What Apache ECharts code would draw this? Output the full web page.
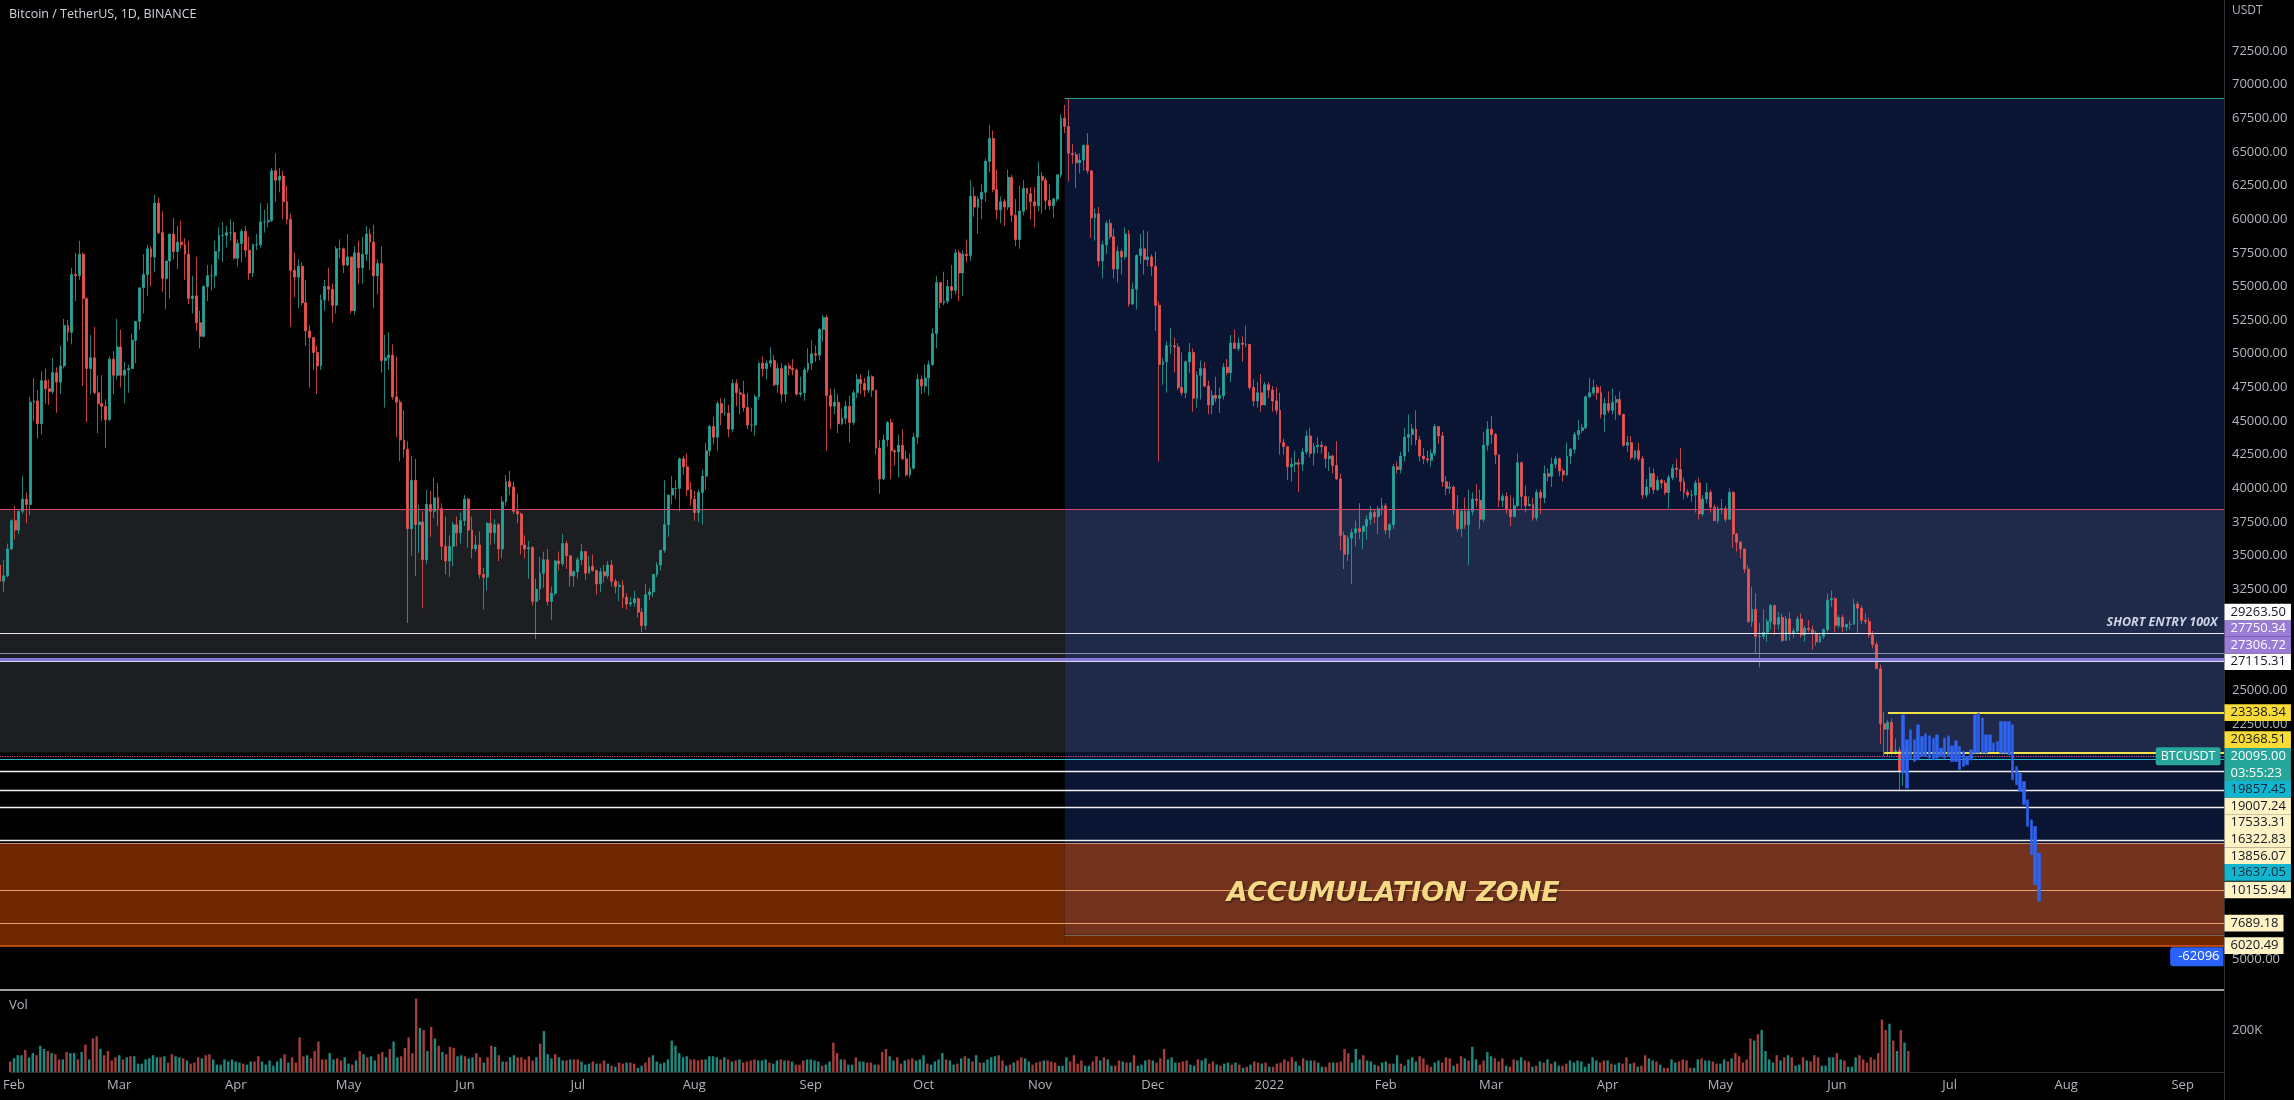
<!DOCTYPE html>
<html><head><meta charset="utf-8">
<script src="https://cdn.jsdelivr.net/npm/echarts@6/dist/echarts.min.js"></script>
<style>html,body{margin:0;padding:0;background:#000;overflow:hidden}#chart{width:2294px;height:1100px}</style>
</head><body><div id="chart"></div>
<script>
// ---------------- DATA ----------------
const START_DATE = '2021-01-31';
const DAY_COUNT = 590;            // categories through 2022-09-12
const FIRST_OPEN = 34.3;          // k USDT
// daily closes, highs, lows in thousands USDT, 2021-01-31 .. 2022-06-20
const CLOSE = [33.1,
33.5,35.5,37.6,36.9,38.3,39.2,38.8,46.4,46.5,44.8,48.0,47.4,47.2,48.6,47.9,49.1,52.1,51.6,55.9,55.8,57.4,54.1,48.9,49.7,47.1,46.3,46.1,45.1,
49.6,48.4,50.5,48.4,48.8,48.9,51.0,52.4,54.9,55.9,57.8,57.2,61.2,59.0,55.6,56.9,58.9,57.6,58.3,58.1,57.4,54.1,54.3,52.3,51.3,55.0,55.8,55.8,57.6,58.8,58.8,
59.0,59.0,57.1,58.2,59.1,57.7,56.0,58.1,58.1,59.8,59.8,59.9,63.6,62.9,63.2,61.3,60.0,56.2,55.7,56.5,53.8,51.7,51.2,50.1,49.1,54.0,55.0,54.8,53.6,57.8,
57.8,56.6,57.2,53.2,57.5,56.4,57.4,58.9,58.3,55.8,56.7,49.5,49.7,49.9,46.8,46.4,43.6,42.9,37.0,40.6,37.3,37.5,34.7,38.8,38.3,39.3,38.5,35.7,34.6,35.7,37.3,
36.7,37.6,39.2,36.9,35.5,35.8,33.6,33.4,37.4,36.7,37.3,35.5,39.0,40.5,40.1,38.3,38.1,35.8,35.5,35.6,31.6,32.5,33.7,34.7,31.6,32.2,34.6,34.4,35.9,35.0,
33.5,33.8,34.7,35.3,33.7,34.2,33.9,32.9,33.8,33.5,34.3,33.1,32.7,32.8,31.9,31.4,31.5,31.8,30.8,29.8,32.1,32.3,33.6,34.3,35.4,37.3,39.5,40.0,40.0,42.2,41.6,
39.9,39.2,38.2,39.7,40.9,42.8,44.6,43.8,46.3,45.6,45.6,44.4,47.8,47.1,47.0,46.0,44.7,44.7,46.8,49.3,48.9,49.3,49.5,47.7,48.9,47.0,49.1,48.9,48.8,47.0,47.1,
48.8,49.3,50.0,49.9,51.8,52.7,46.9,46.1,46.4,44.8,45.2,46.1,44.9,47.1,48.1,47.8,47.3,48.3,47.3,43.0,40.7,43.6,44.9,42.8,42.7,43.2,42.2,41.0,41.5,43.8,
48.1,47.6,48.2,49.2,51.5,55.3,53.8,53.9,55.0,54.7,57.5,56.0,57.4,57.3,61.7,60.9,61.5,62.0,64.3,66.0,62.2,60.7,61.3,60.9,63.1,60.3,58.5,60.6,62.3,61.9,61.3,
61.0,63.2,62.9,61.4,61.0,61.5,63.3,67.5,66.9,64.9,64.8,64.2,64.4,65.5,63.6,60.1,60.4,56.9,58.1,59.7,58.7,56.3,57.6,57.2,58.9,53.7,54.8,57.3,57.8,57.0,
57.2,56.5,53.6,49.2,49.4,50.6,50.6,50.5,47.5,47.1,49.4,50.1,46.7,48.4,48.9,47.6,46.2,46.9,46.7,46.9,49.0,48.6,50.8,50.4,50.8,50.7,50.7,47.5,46.5,47.1,46.2,
47.7,47.3,46.5,45.8,43.4,43.1,41.6,41.8,41.9,41.8,42.7,43.9,42.6,43.1,43.2,43.1,42.2,42.4,41.7,40.7,36.5,35.1,36.3,36.7,37.0,36.8,37.2,37.7,38.2,37.9,38.5,
38.7,36.9,37.3,41.6,41.4,42.4,43.8,44.0,44.4,43.6,42.4,42.2,42.1,42.6,44.6,43.9,40.5,40.0,40.1,38.4,37.0,38.3,37.3,38.3,39.2,39.1,37.7,43.2,
44.4,44.0,42.5,39.1,39.4,38.4,37.9,38.7,41.9,39.4,38.7,38.8,37.8,39.7,39.3,41.1,40.9,41.8,42.2,41.3,41.0,42.4,42.9,44.0,44.3,44.5,46.8,47.1,47.5,47.1,45.5,
46.3,45.8,46.4,46.6,45.5,43.2,43.4,42.3,42.8,42.2,39.5,40.1,41.1,39.9,40.6,40.4,39.7,40.8,41.5,41.4,40.5,39.7,39.5,39.5,40.4,38.1,39.2,39.7,38.6,37.6,
38.5,38.5,37.7,39.7,36.6,36.0,35.5,34.0,30.1,31.0,29.0,29.0,29.3,30.1,31.3,29.9,30.4,28.7,30.3,29.2,29.4,30.3,29.1,29.6,29.5,29.2,28.6,29.0,29.5,31.7,31.8,
29.8,30.4,29.7,29.9,29.9,31.4,31.1,30.2,30.1,29.1,28.4,26.6,22.5,22.1,22.6,20.4,20.5,19.0,20.6,20.1];
const HIGH = [34.3,
34.7,35.9,37.7,38.7,38.3,40.9,39.7,46.8,48.2,47.3,48.7,48.9,48.1,49.7,49.0,50.6,52.6,52.5,56.4,57.5,58.4,57.5,54.2,51.4,52.0,48.4,48.4,46.6,
49.8,50.2,52.6,51.8,49.4,49.2,51.5,52.4,54.9,57.4,58.1,58.0,61.8,61.6,60.6,56.9,58.9,60.1,59.5,59.9,58.6,58.4,55.8,57.2,53.2,55.1,56.6,56.6,58.4,59.4,59.8,
59.5,60.0,59.8,58.5,59.3,59.5,58.7,58.2,58.9,61.2,60.7,61.2,63.8,64.9,63.8,63.6,62.5,60.4,57.5,57.0,56.8,55.5,52.1,51.2,50.6,54.4,55.5,56.4,55.2,58.0,
58.5,57.9,58.9,57.2,58.0,58.4,58.7,59.5,59.3,59.6,57.0,58.0,51.4,51.6,50.7,49.8,46.6,45.8,43.5,42.4,42.2,38.8,38.3,39.9,39.8,40.8,40.4,38.9,37.9,36.5,37.5,
37.9,38.2,39.5,39.3,37.9,36.5,36.8,34.1,37.5,38.4,37.7,37.4,39.4,41.0,41.3,40.5,39.6,38.2,36.5,36.1,35.7,33.3,34.9,35.3,35.5,32.7,34.7,35.3,36.6,36.1,
35.0,33.9,34.9,35.9,35.3,35.0,35.1,33.9,34.1,34.3,34.6,34.7,33.3,33.1,33.2,32.2,31.9,32.4,31.9,31.1,32.9,32.6,33.6,34.5,35.4,40.6,39.5,40.9,40.6,42.3,42.4,
42.6,40.5,39.8,39.9,41.4,43.4,44.7,45.3,46.5,46.7,46.7,46.2,48.1,48.1,47.4,48.0,47.1,46.0,47.0,49.4,49.8,49.5,50.5,49.9,49.3,49.3,49.2,49.3,49.6,48.9,48.3,
49.0,50.4,51.0,50.6,51.9,52.9,52.9,47.4,47.4,47.0,45.9,46.5,46.9,47.3,48.5,48.5,48.2,48.8,48.4,47.3,43.6,44.0,45.0,45.2,42.9,44.0,44.4,42.8,42.6,44.1,
48.5,48.4,49.2,49.5,51.9,55.8,55.3,56.1,55.5,56.6,57.8,57.7,57.7,58.5,62.9,62.4,61.7,62.6,64.5,67.0,66.6,63.7,61.7,61.5,63.7,63.3,61.5,62.5,62.9,62.3,62.4,
62.4,64.3,63.5,63.1,62.6,61.6,63.3,67.8,68.5,69.0,65.6,65.0,64.9,65.5,66.4,63.6,60.8,60.9,58.4,59.9,60.0,59.3,58.0,57.8,59.4,59.2,55.3,57.4,58.9,59.2,
59.1,57.4,57.6,53.9,49.7,50.9,51.9,51.2,50.8,50.1,49.5,50.8,50.4,48.7,49.5,49.4,48.0,47.3,48.3,47.5,49.3,49.6,51.4,51.8,51.2,51.3,52.1,50.7,48.1,47.9,48.5,
47.9,47.9,47.6,47.5,47.1,43.7,43.1,42.3,42.8,42.2,43.0,44.3,44.5,43.4,43.8,43.5,43.2,42.7,42.5,43.5,41.1,36.8,36.5,37.0,37.6,38.9,37.2,38.0,38.7,38.4,38.7,
39.3,38.9,37.4,41.8,42.0,42.7,44.5,45.5,44.8,45.8,43.9,43.0,42.8,42.9,44.8,44.6,44.2,40.9,40.5,40.2,39.5,38.4,39.3,39.9,39.7,40.3,39.9,44.2,
45.0,45.4,44.1,42.5,39.6,39.7,39.5,39.3,42.6,42.0,40.2,39.4,39.3,39.9,39.9,41.7,41.5,42.3,42.4,42.3,41.5,43.4,43.0,44.2,45.1,44.8,46.9,48.2,48.1,47.7,47.6,
46.7,47.2,47.4,46.9,47.2,45.5,43.9,43.9,42.8,43.4,42.4,40.7,41.6,41.5,40.9,40.7,40.6,41.0,41.8,42.2,43.0,40.8,39.9,39.9,40.6,40.8,39.5,40.4,39.9,38.8,
38.7,39.2,38.7,40.0,39.8,36.7,36.1,35.5,34.3,32.7,32.2,30.0,31.0,30.3,31.4,31.3,30.8,30.7,30.5,30.8,29.6,30.5,30.7,29.8,30.2,29.8,29.4,29.2,29.6,32.2,32.4,
31.9,30.6,30.6,29.9,30.2,31.8,31.6,31.3,30.7,30.4,29.4,28.6,26.9,23.4,22.8,22.9,21.4,20.8,20.8,21.0];
const LOW = [32.1,
32.3,33.4,35.4,36.2,36.6,38.1,37.4,38.0,45.0,43.7,44.0,46.3,46.2,47.0,45.6,47.0,48.9,50.9,50.7,53.9,55.5,47.6,44.9,47.0,47.0,44.1,45.0,43.0,
45.0,47.0,48.1,47.5,46.3,47.1,48.9,49.3,51.8,53.0,54.3,55.0,56.1,58.9,54.6,53.3,54.1,57.0,56.3,57.8,55.5,53.7,53.0,51.7,50.4,51.2,53.9,54.7,54.9,57.0,56.8,
57.9,58.4,57.0,56.5,56.8,57.2,55.5,55.7,57.7,57.9,59.0,59.4,59.8,61.3,62.0,60.0,59.6,52.0,54.2,53.4,53.6,50.6,47.5,48.8,47.0,48.8,53.2,53.9,52.3,53.0,
57.1,56.0,56.5,53.0,52.9,55.2,55.2,56.9,56.2,53.4,54.4,48.6,46.0,48.8,46.6,43.8,42.0,42.3,30.0,35.0,33.5,35.2,31.1,34.4,36.4,37.8,37.2,34.7,33.6,33.4,34.2,
35.7,35.9,37.2,35.6,34.8,35.3,33.3,31.0,32.4,35.8,35.9,34.6,34.8,38.7,39.5,38.1,37.4,35.1,34.8,33.3,31.3,28.8,31.7,32.6,31.3,30.2,32.0,33.9,34.2,34.0,
32.7,32.7,33.3,34.3,33.2,33.7,33.8,32.1,32.3,33.0,33.3,32.7,32.2,31.6,31.1,31.0,31.2,31.2,30.4,29.3,29.5,31.7,31.9,33.4,33.9,35.2,36.4,38.8,39.2,38.3,41.0,
39.4,38.7,37.6,37.5,37.3,39.9,42.4,43.3,42.8,44.7,45.4,43.8,44.2,46.1,45.5,45.7,44.4,44.2,43.9,46.6,48.3,48.1,49.0,47.6,47.1,46.4,46.4,48.4,48.4,46.9,46.8,
46.5,48.6,48.8,49.4,49.5,50.9,42.8,44.4,45.5,44.1,44.7,44.8,43.4,44.7,46.7,47.0,46.8,47.1,46.8,42.5,39.6,40.6,43.1,40.7,41.7,40.8,42.1,40.9,40.8,41.4,
43.3,47.0,47.1,46.9,49.1,50.4,53.4,53.6,53.7,54.1,54.4,53.9,54.3,56.8,56.9,60.2,58.9,60.0,61.3,63.5,62.0,60.0,59.7,59.5,60.7,59.8,58.0,57.8,60.3,60.7,60.0,
59.4,60.6,60.4,60.7,60.7,60.1,61.3,63.1,66.4,62.8,64.1,62.3,63.4,63.6,63.4,58.6,58.4,56.5,55.6,57.4,58.5,55.6,55.3,55.9,57.0,53.5,53.6,53.3,56.7,55.9,
56.5,55.8,51.7,42.0,47.7,47.1,50.0,48.6,47.3,46.9,46.7,48.6,45.7,46.0,46.6,47.5,45.5,45.5,46.4,45.6,46.6,48.4,47.9,50.4,50.2,49.4,50.5,47.3,46.1,46.0,45.7,
46.2,46.7,45.7,45.5,42.5,42.5,40.6,40.5,41.2,39.7,41.3,42.5,42.3,41.7,42.6,42.6,41.5,41.3,41.1,40.6,35.4,34.0,34.6,32.9,35.7,36.2,35.5,36.2,37.3,37.4,36.6,
38.0,36.6,36.3,37.0,41.1,41.1,42.0,42.7,43.2,43.2,42.0,41.8,41.9,41.6,42.4,43.3,40.1,39.5,39.6,38.0,36.8,36.4,37.0,34.3,38.0,38.6,37.0,37.5,
42.8,43.3,41.8,38.6,38.6,38.1,37.2,37.9,38.6,38.5,38.2,38.7,37.6,37.6,38.1,38.9,40.5,40.1,41.5,40.9,40.5,40.9,41.8,42.6,43.6,44.1,44.4,46.7,46.9,46.6,45.2,
44.2,45.6,45.5,45.1,45.4,43.1,42.7,42.1,42.1,42.0,39.2,39.3,39.6,39.6,39.8,40.0,39.5,38.5,40.6,40.8,39.8,39.2,39.3,39.0,38.2,37.7,37.9,38.9,38.2,37.6,
37.4,38.1,37.5,37.7,35.6,35.3,34.8,33.7,30.0,29.7,27.7,26.7,28.8,28.6,29.5,29.1,29.5,28.6,28.7,28.7,28.9,29.2,28.9,28.6,29.3,28.0,28.3,28.5,28.8,29.3,31.2,
29.3,29.6,29.3,29.4,29.5,29.9,29.2,29.9,29.9,28.9,28.1,26.6,21.0,20.1,20.1,20.2,20.2,17.6,17.9,19.6];
// daily volume, thousands BTC
const VOLUME = [50,
66,80,80,105,70,90,80,125,110,100,90,85,60,60,95,90,90,60,95,130,60,160,170,110,80,100,55,70,
80,60,70,75,75,40,40,60,65,80,70,70,75,45,85,75,70,65,55,40,45,70,65,80,85,60,35,35,60,50,60,
50,45,40,35,50,50,75,50,35,55,30,50,65,85,45,70,45,165,75,80,65,100,145,60,60,90,60,65,55,70,
40,35,55,100,85,70,75,55,85,95,70,110,145,70,75,115,165,90,350,210,200,100,215,160,125,95,85,120,115,75,80,
75,65,70,90,70,45,70,125,120,80,50,50,70,80,70,70,60,75,55,70,135,195,85,65,85,70,55,55,60,60,
60,50,35,40,50,40,40,55,40,30,25,45,40,45,45,40,20,30,45,70,80,50,40,45,60,150,125,90,70,75,60,
60,55,60,60,75,75,70,60,70,60,50,55,60,45,50,55,60,55,55,60,45,40,55,60,55,55,50,35,35,55,60,
60,55,50,30,35,50,140,90,60,60,35,35,70,50,50,45,45,35,35,95,110,75,55,70,40,55,60,65,55,60,
80,40,35,50,60,90,60,55,35,40,65,75,65,50,80,45,45,60,70,75,80,55,30,35,45,55,70,65,50,35,45,
50,55,55,50,45,30,30,70,50,80,40,55,30,30,50,75,55,70,60,30,30,55,50,45,45,80,30,35,55,60,
55,45,65,110,60,70,45,45,50,55,35,30,60,55,65,40,50,35,30,40,45,35,45,35,20,25,35,50,45,40,45,
25,25,40,45,60,50,70,50,30,65,55,55,55,45,25,25,45,45,45,50,110,90,45,110,60,80,55,50,35,30,45,
50,40,40,80,40,30,60,70,50,75,65,35,25,45,55,45,70,65,30,40,75,65,55,120,60,35,55,95,
75,65,50,65,30,25,60,55,70,55,50,25,30,50,45,60,40,50,30,30,40,55,45,55,50,25,40,70,55,45,55,
55,40,35,45,40,70,40,45,25,30,80,65,55,50,35,20,20,60,45,50,60,55,20,20,60,65,55,55,50,40,
40,60,50,65,90,75,45,60,160,150,180,200,100,60,45,80,55,70,80,70,30,35,70,55,50,80,70,30,30,70,70,
90,60,55,25,25,70,80,60,45,70,60,90,250,200,230,150,100,200,140,100];
// projected "bars pattern" drawing (high / low, k USDT), daily from PATTERN_START
const PATTERN_START = '2022-06-19';
const PATTERN_HIGH = [23.17,21.31,22.06,21.31,22.43,21.56,21.76,21.61,21.44,21.69,20.70,21.44,21.61,20.87,21.24,20.82,20.45,20.08,20.57,23.17,23.30,22.93,21.69,21.69,21.07,21.19,22.67,22.67,22.67,22.43,19.33,18.84,18.22,16.86,15.37,14.88,12.90];
const PATTERN_LOW  = [18.84,17.72,19.83,19.70,19.83,20.08,20.08,19.95,19.83,19.95,20.08,19.95,20.08,19.70,19.70,19.09,19.33,19.46,19.83,20.32,20.32,20.32,20.32,20.45,20.45,20.45,20.32,20.32,20.20,18.34,17.97,17.48,16.49,14.88,12.77,10.54,9.30];
// drawing levels (USDT)
const BOX_START = '2021-11-09';
const BOX_TOP = 69000, BOX_BOTTOM = 6824;
const RANGE_TOP = 38473, RANGE_BOTTOM = 20368.51;
const ZONE_TOP = 13637.05, ZONE_BOTTOM = 6020.49;
const YELLOW_HIGH = 23338.34, YELLOW_HIGH_START = '2022-06-15';
const YELLOW_LOW = 20368.51, YELLOW_LOW_START = '2022-06-14';
const CURRENT_PRICE = 20095.00, COUNTDOWN = '03:55:23';
const TAG_PRICES = [29263.50, 27750.34, 27306.72, 27115.31, 23338.34, 20368.51, 19857.45, 19007.24, 17533.31, 16322.83, 13856.07, 13637.05, 10155.94, 7689.18, 6020.49];
const TAG_KINDS  = ['white','purple','purple','white','yellow','yellow','cyan','cream','cream','cream','cream','cyan','cream','cream','cream'];
const PRICE_MIN = 2500, PRICE_MAX = 76290, PRICE_STEP = 2500, PRICE_LABEL_TOP = 72500;
const VOL_MAX = 367, VOL_STEP = 200;
const RANGE_LABEL = '-62096', RANGE_LABEL_PRICE = 5193;
const ZONE_TEXT = 'ACCUMULATION ZONE', ZONE_TEXT_AT = ['2022-02-04', 9874];
const SHORT_TEXT = 'SHORT ENTRY 100X', SHORT_TEXT_PRICE = 30006;
const MONTHS = ['Jan','Feb','Mar','Apr','May','Jun','Jul','Aug','Sep','Oct','Nov','Dec'];

// ---------------- BUILD ----------------
const dates = [];
const t0 = Date.parse(START_DATE + 'T00:00:00Z');
for (let i = 0; i < DAY_COUNT; i++) dates.push(new Date(t0 + i * 86400000).toISOString().slice(0, 10));
const iLAST = dates.length - 1;
const iBOX = dates.indexOf(BOX_START);
const LAST = dates[iLAST];

const UP = '#26a69a', DOWN = '#ef5350', UPV = '#208a80', DOWNV = '#a63e3c';
const candles = [], vols = [];
let prev = FIRST_OPEN;
for (let i = 0; i < CLOSE.length; i++) {
  const o = prev, c = CLOSE[i];
  const h = Math.max(HIGH[i], o, c), l = Math.min(LOW[i], o, c);
  candles.push([o * 1000, c * 1000, l * 1000, h * 1000]);
  vols.push({ value: VOLUME[i], itemStyle: { color: c >= o ? UPV : DOWNV } });
  prev = c;
}
const pattern = dates.map(() => '-');
const ps = dates.indexOf(PATTERN_START);
PATTERN_HIGH.forEach((h, k) => { const l = PATTERN_LOW[k]; pattern[ps + k] = [h * 1000, l * 1000, l * 1000, h * 1000]; });

const C = { navy: '#0a1534', grey: '#1c1e21', overlap: '#1f2a4a', brown: '#702800', brownOver: '#73331e' };
const FONT = '"Open Sans", "Liberation Sans", sans-serif';

const area = (x1, y1, x2, y2, color) => [{ xAxis: x1, yAxis: y1, itemStyle: { color } }, { xAxis: x2, yAxis: y2 }];
const hline = (v, color, width, type) => ({ yAxis: v, lineStyle: { color, width: width || 1, type: type || 'solid' } });
const seg = (x1, x2, v, color, width) => [{ xAxis: x1, yAxis: v, lineStyle: { color, width: width || 1, type: 'solid' } }, { xAxis: x2, yAxis: v }];

const chart = echarts.init(document.getElementById('chart'), null, { renderer: 'canvas' });
const xAxisBase = {
  type: 'category', data: dates, boundaryGap: false,
  axisTick: { show: false }, splitLine: { show: false }
};
const option = {
  backgroundColor: '#000000',
  animation: false,
  grid: [
    { left: 0, top: 0, width: 2224, height: 993 },
    { left: 0, top: 995, width: 2224, height: 77 }
  ],
  xAxis: [
    Object.assign({}, xAxisBase, { gridIndex: 0, axisLine: { show: false }, axisLabel: { show: false } }),
    Object.assign({}, xAxisBase, {
      gridIndex: 1,
      axisLine: { show: true, lineStyle: { color: '#2a2e39' } },
      axisLabel: {
        color: '#b2b5be', fontFamily: FONT, fontSize: 13, margin: 7,
        interval: (i, v) => v.slice(8) === '01',
        formatter: v => { const m = +v.slice(5, 7); return m === 1 ? v.slice(0, 4) : MONTHS[m - 1]; }
      }
    })
  ],
  yAxis: [
    {
      gridIndex: 0, type: 'value', position: 'right', min: PRICE_MIN, max: PRICE_MAX, interval: PRICE_STEP,
      splitLine: { show: false }, axisTick: { show: false },
      axisLine: { show: false },
      axisLabel: { color: '#b2b5be', fontFamily: FONT, fontSize: 13, margin: 8, showMaxLabel: false, showMinLabel: false, formatter: v => '' }
    },
    {
      gridIndex: 1, type: 'value', position: 'right', min: 0, max: VOL_MAX, interval: VOL_STEP,
      splitLine: { show: false }, axisTick: { show: false }, axisLine: { show: false },
      axisLabel: { color: '#b2b5be', fontFamily: FONT, fontSize: 13, margin: 8, showMaxLabel: false,
        formatter: v => (v === VOL_STEP ? (v + 'K') : '') }
    }
  ],
  series: [
    {
      name: 'BTCUSDT', type: 'candlestick', xAxisIndex: 0, yAxisIndex: 0, z: 2,
      data: candles, barWidth: 2.4,
      itemStyle: { color: UP, color0: DOWN, borderColor: UP, borderColor0: DOWN, borderWidth: 0.8 },
      markArea: {
        silent: true, z: 1,
        data: [
          area(iBOX, BOX_TOP, iLAST, RANGE_TOP, C.navy),
          area(0, RANGE_TOP, iBOX, RANGE_BOTTOM, C.grey),
          area(iBOX, RANGE_TOP, iLAST, RANGE_BOTTOM, C.overlap),
          area(iBOX, RANGE_BOTTOM, iLAST, ZONE_TOP, C.navy),
          area(0, ZONE_TOP, iBOX, ZONE_BOTTOM, C.brown),
          area(iBOX, ZONE_TOP, iLAST, BOX_BOTTOM, C.brownOver),
          area(iBOX, BOX_BOTTOM, iLAST, ZONE_BOTTOM, C.brown)
        ]
      },
      markLine: {
        silent: true, z: 5, symbol: ['none', 'none'], label: { show: false },
        data: [
          seg(BOX_START, LAST, BOX_TOP, '#2c9c8a', 1),
          hline(RANGE_TOP, '#d8456f', 1.2),
          hline(TAG_PRICES[0], '#e8e8ee', 1.2),
          hline(TAG_PRICES[1], '#8d8fb0', 1),
          hline(TAG_PRICES[2], '#8577d8', 3),
          hline(TAG_PRICES[3], '#dcdcf0', 1.2),
          seg(YELLOW_HIGH_START, LAST, YELLOW_HIGH, '#f2e24a', 2),
          seg(YELLOW_LOW_START, LAST, YELLOW_LOW, '#f2e24a', 2),
          hline(CURRENT_PRICE, '#d456a8', 1.2, 'dotted'),
          hline(TAG_PRICES[6], '#27b6cc', 1),
          hline(TAG_PRICES[7], '#f0f0f0', 1.4),
          hline(TAG_PRICES[8], '#f0f0f0', 1.4),
          hline(TAG_PRICES[9], '#f0f0f0', 1.4),
          hline(TAG_PRICES[10], '#f0f0f0', 1.4),
          hline(ZONE_TOP, '#c89272', 1.2),
          hline(TAG_PRICES[12], '#eba06a', 1.2),
          hline(TAG_PRICES[13], '#eba06a', 1.2),
          seg(BOX_START, LAST, BOX_BOTTOM, '#7c685c', 1),
          hline(ZONE_BOTTOM, '#ee5a1c', 1.5)
        ]
      },
      markPoint: {
        silent: true, z: 7, symbol: 'circle', symbolSize: 1, itemStyle: { color: 'rgba(0,0,0,0)' },
        data: [
          { coord: ZONE_TEXT_AT, label: { show: true, position: 'inside', formatter: ZONE_TEXT,
              color: '#f6d985', fontFamily: '"DejaVu Sans", sans-serif', fontStyle: 'italic', fontWeight: 'bold', fontSize: 27,
              textShadowColor: 'rgba(0,0,0,0.6)', textShadowBlur: 3, textShadowOffsetX: 1, textShadowOffsetY: 1 } },
          { coord: [LAST, SHORT_TEXT_PRICE], label: { show: true, position: 'left', distance: 6, formatter: SHORT_TEXT,
              color: '#cdd4e4', fontFamily: FONT, fontStyle: 'italic', fontWeight: 'bold', fontSize: 12.5 } },
          { coord: [LAST, CURRENT_PRICE], label: { show: true, position: 'left', distance: 3, formatter: 'BTCUSDT',
              color: '#ffffff', backgroundColor: '#26a69a', padding: [3, 5, 2, 5], borderRadius: 2,
              fontFamily: FONT, fontSize: 12.5 } },
          { coord: [LAST, RANGE_LABEL_PRICE], label: { show: true, position: 'left', distance: 0, formatter: RANGE_LABEL,
              color: '#ffffff', backgroundColor: '#2962ff', padding: [3, 4, 3, 8], borderRadius: [3, 0, 0, 3],
              fontFamily: FONT, fontSize: 13 } }
        ]
      }
    },
    {
      name: 'pattern', type: 'candlestick', xAxisIndex: 0, yAxisIndex: 0, z: 6,
      data: pattern, barWidth: 3,
      itemStyle: { color: '#2e64f2', color0: '#2e64f2', borderColor: '#2e64f2', borderColor0: '#2e64f2', borderWidth: 0.5 }
    },
    {
      name: 'Vol', type: 'bar', xAxisIndex: 1, yAxisIndex: 1, data: vols, barWidth: 2.4
    }
  ],
  graphic: []
};
chart.setOption(option);

// ---- price tags on the scale (stacked like TradingView) ----
const H = 16.6;
const yOf = p => chart.convertToPixel({ yAxisIndex: 0 }, p);
const TAG_STYLE = {
  white:  { bg: '#ffffff', fg: '#131722' },
  purple: { bg: '#9a7bd6', fg: '#ffffff' },
  yellow: { bg: '#f8dc35', fg: '#131722' },
  cyan:   { bg: '#12b5cf', fg: '#0f2b3a' },
  cream:  { bg: '#fff3c6', fg: '#131722' }
};
const tags = TAG_PRICES.map((p, i) => ({ price: p, kind: TAG_KINDS[i] }));
const curTop = yOf(CURRENT_PRICE) - H / 2;
const placed = [];
let edge = curTop;
tags.filter(t => t.price > CURRENT_PRICE).sort((a, b) => a.price - b.price).forEach(t => {
  const c = Math.min(yOf(t.price), edge - H / 2); placed.push(Object.assign({ cy: c }, t)); edge = c - H / 2;
});
edge = curTop + 2 * H;
tags.filter(t => t.price < CURRENT_PRICE).sort((a, b) => b.price - a.price).forEach(t => {
  const c = Math.max(yOf(t.price), edge + H / 2); placed.push(Object.assign({ cy: c }, t)); edge = c + H / 2;
});
const centers = placed.map(t => t.cy).concat([curTop + H / 2, curTop + 1.5 * H]);
const hidden = new Set();
for (let v = PRICE_MIN; v <= PRICE_MAX; v += PRICE_STEP) {
  const y = yOf(v);
  if (v > PRICE_LABEL_TOP || v <= PRICE_MIN || centers.some(c => Math.abs(c - y) < 11)) hidden.add(v);
}
const AX = 2224;
const graphics = [
  { type: 'rect', z: 100, shape: { x: 0, y: 989.2, width: AX, height: 1.6 }, style: { fill: '#d6d6d6' } },
  { type: 'rect', z: 100, shape: { x: AX, y: 0, width: 1, height: 1100 }, style: { fill: '#2a2e39' } },
  { type: 'text', z: 100, x: 9, y: 8, style: { text: 'Bitcoin / TetherUS, 1D, BINANCE', fill: '#d1d4dc', font: '12.5px ' + FONT } },
  { type: 'text', z: 100, x: 9, y: 999, style: { text: 'Vol', fill: '#b2b5be', font: '13px ' + FONT } },
  { type: 'text', z: 100, x: 2232, y: 5, style: { text: 'USDT', fill: '#b2b5be', font: '12px ' + FONT } }
];
placed.forEach(t => {
  const s = TAG_STYLE[t.kind];
  graphics.push({ type: 'text', z: 110, x: AX + 0.5, y: t.cy, style: {
    text: t.price.toFixed(2), fill: s.fg, backgroundColor: s.bg, font: '13px ' + FONT,
    padding: [1, 5, 1, 6], lineHeight: 14.6, verticalAlign: 'middle', align: 'left' } });
});
graphics.push({ type: 'text', z: 111, x: AX + 0.5, y: curTop, style: {
  text: CURRENT_PRICE.toFixed(2) + '\n' + COUNTDOWN, fill: '#ffffff', backgroundColor: '#26a69a', font: '13px ' + FONT,
  padding: [0, 5, 0, 6], lineHeight: H, verticalAlign: 'top', align: 'left' } });

chart.setOption({
  yAxis: [{ axisLabel: { formatter: v => (hidden.has(v) ? '' : v.toFixed(2)) } }, {}],
  graphic: graphics
});
</script>
</body></html>
